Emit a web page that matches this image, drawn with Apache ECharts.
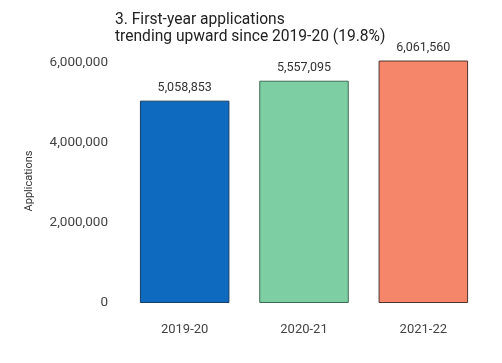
<!DOCTYPE html>
<html><head><meta charset="utf-8">
<script src="https://cdn.jsdelivr.net/npm/echarts@6/dist/echarts.min.js"></script>
<style>html,body{margin:0;padding:0;background:#fff}#c{width:502px;height:363px}</style>
</head><body><div id="c"></div>
<script>
const categories = ['2019-20', '2020-21', '2021-22'];
const applications = [5058853, 5557095, 6061560];
const barColors = ['#0d6abf', '#7dcfa3', '#f5866a'];
const borderColors = ['#173d63', '#3e6a54', '#4f3530'];
const yTicks = [0, 2000000, 4000000, 6000000];

const chart = echarts.init(document.getElementById('c'), null, {renderer: 'canvas'});
const fmt = v => v.toLocaleString('en-US');
chart.setOption({
  animation: false,
  textStyle: {fontFamily: 'Roboto'},
  title: {
    text: '3. First-year applications\ntrending upward since 2019-20 (19.8%)',
    left: 110, top: 7,
    textStyle: {fontSize: 15.6, fontWeight: 'normal', color: '#222', lineHeight: 17, fontFamily: 'Roboto'}
  },
  grid: {left: 125, right: 19, top: 59, bottom: 60},
  xAxis: {
    type: 'category', data: categories,
    axisLine: {show: false}, axisTick: {show: false},
    axisLabel: {fontSize: 13, color: '#444', margin: 20}
  },
  yAxis: {
    type: 'value', min: 0, max: 6100000, interval: 2000000,
    name: 'Applications', nameLocation: 'middle', nameGap: 90,
    nameTextStyle: {fontSize: 11, color: '#333'},
    splitLine: {show: false}, axisLine: {show: false}, axisTick: {show: false},
    axisLabel: {fontSize: 13.5, color: '#444', margin: 17, showMaxLabel: false,
      verticalAlign: 'middle', padding: [0, 0, 4, 0],
      formatter: v => yTicks.includes(v) ? fmt(v) : ''}
  },
  series: [{
    type: 'bar', barWidth: '75%',
    data: applications.map((v, i) => ({
      value: v,
      itemStyle: {color: barColors[i], borderColor: borderColors[i], borderWidth: 1}
    })),
    label: {show: true, position: 'top', distance: 6, fontSize: 12.5, color: '#333', formatter: p => fmt(p.value)}
  }]
});
</script></body></html>
